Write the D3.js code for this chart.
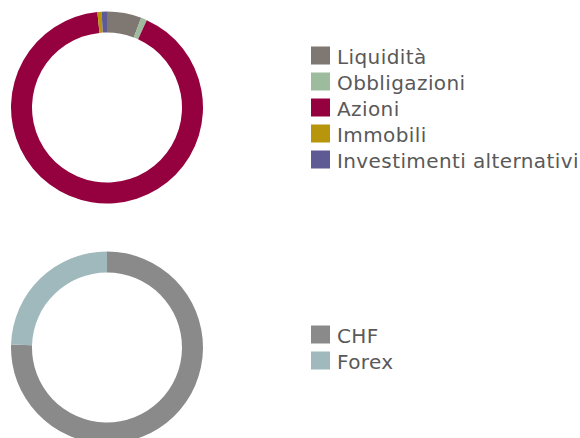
<!DOCTYPE html>
<html lang="it">
<head>
<meta charset="UTF-8">
<title>Allocazione</title>
<script src="https://d3js.org/d3.v7.min.js"></script>
<style>
  body { margin: 0; background: #fff; }
  .legend text { font-family: "DejaVu Sans", sans-serif; font-size: 20px; letter-spacing: 0.4px; fill: #595959; }
</style>
</head>
<body>
<div id="chart"></div>
<script>
// Classi d'investimento
const assetLabels = ["Liquidità", "Obbligazioni", "Azioni", "Immobili", "Investimenti alternativi"];
const assetValues = [5.8, 1.0, 91.6, 0.7, 0.9];
const assetColors = ["#7f7771", "#9dbc9e", "#95003f", "#b8960b", "#5e5a93"];

// Valute
const currencyLabels = ["CHF", "Forex"];
const currencyValues = [75.5, 24.5];
const currencyColors = ["#8a8a8a", "#9fb9bd"];

const W = 580, H = 438;
const outerR = 96, innerR = 75;

const svg = d3.select("#chart").append("svg")
    .attr("width", W)
    .attr("height", H);

function donut(labels, values, colors, cy) {
    const data = labels.map((l, i) => ({ label: l, value: values[i], color: colors[i] }));
    const pie = d3.pie().sort(null).value(d => d.value);
    const arc = d3.arc().innerRadius(innerR).outerRadius(outerR);

    const g = svg.append("g").attr("transform", `translate(107,${cy})`);
    g.selectAll("path")
        .data(pie(data))
        .enter()
        .append("path")
        .attr("d", arc)
        .attr("fill", d => d.data.color);

    // legenda centrata sul grafico
    const rowH = 26, sw = 18;
    const top = cy - ((data.length - 1) * rowH + sw) / 2;
    const leg = svg.append("g").attr("class", "legend");
    const rows = leg.selectAll("g")
        .data(data)
        .enter()
        .append("g")
        .attr("transform", (d, i) => `translate(311,${top + i * rowH})`);
    rows.append("rect")
        .attr("width", 19)
        .attr("height", sw)
        .attr("fill", d => d.color);
    rows.append("text")
        .attr("x", 26)
        .attr("y", 17)
        .text(d => d.label);
}

donut(assetLabels, assetValues, assetColors, 107.5);
donut(currencyLabels, currencyValues, currencyColors, 347.5);
</script>
</body>
</html>
